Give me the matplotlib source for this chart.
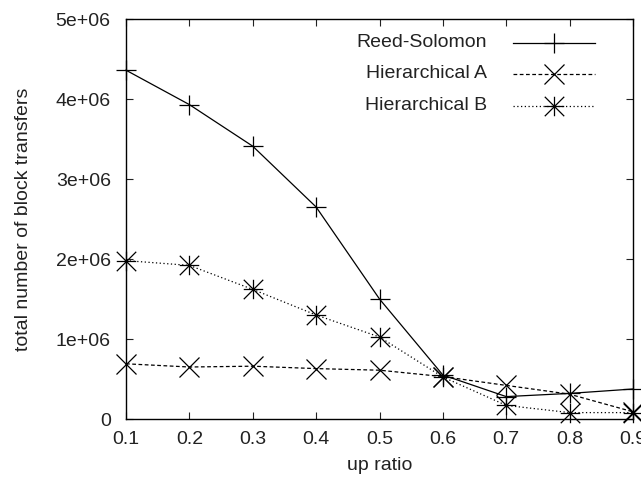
import matplotlib
matplotlib.use("Agg")
import matplotlib.pyplot as plt
from matplotlib.lines import Line2D
from matplotlib.path import Path

plt.rcParams['font.family'] = ['Liberation Sans', 'DejaVu Sans']

up_ratio = [0.1, 0.2, 0.3, 0.4, 0.5, 0.6, 0.7, 0.8, 0.9]
reed_solomon = [4.36e6, 3.93e6, 3.41e6, 2.65e6, 1.50e6, 0.55e6, 0.28e6, 0.32e6, 0.375e6]
hier_a = [0.69e6, 0.65e6, 0.66e6, 0.63e6, 0.61e6, 0.53e6, 0.42e6, 0.31e6, 0.09e6]
hier_b = [1.98e6, 1.92e6, 1.62e6, 1.30e6, 1.025e6, 0.525e6, 0.17e6, 0.08e6, 0.08e6]
series_names = ["Reed-Solomon", "Hierarchical A", "Hierarchical B"]
x_ticks = [0.1, 0.2, 0.3, 0.4, 0.5, 0.6, 0.7, 0.8, 0.9]
y_ticks = [0, 1e6, 2e6, 3e6, 4e6, 5e6]
y_tick_labels = ["0", "1e+06", "2e+06", "3e+06", "4e+06", "5e+06"]

FS = 14
fig = plt.figure(figsize=(6.41, 4.83), dpi=100)
ax = fig.add_axes([126/641, 1-419/483, (633-126)/641, 400/483])

# gnuplot-style asterisk: "+" overlaid with "x" reaching the corners
ast_verts = [(-1, 0), (1, 0), (0, -1), (0, 1), (-1, -1), (1, 1), (-1, 1), (1, -1)]
ast_codes = [Path.MOVETO, Path.LINETO] * 4
asterisk = Path(ast_verts, ast_codes)

styles = [
    dict(linestyle='-', marker='+', ms=15),
    dict(linestyle=(0, (3, 2)), marker='x', ms=14),
    dict(linestyle=(0, (1, 2)), marker=asterisk, ms=14),
]
data = [reed_solomon, hier_a, hier_b]
for ys, st in zip(data, styles):
    ax.plot(up_ratio, ys, color='black', lw=0.9, mew=0.9, clip_on=False, **st)

ax.set_xlim(0.1, 0.9)
ax.set_ylim(0, 5e6)
ax.set_xticks(x_ticks)
ax.set_xticklabels([f"{v:.1f}" for v in x_ticks])
ax.set_yticks(y_ticks)
ax.set_yticklabels(y_tick_labels)
ax.tick_params(direction='in', top=True, right=True, length=5, width=0.8,
               labelsize=FS, colors='#222222')
ax.tick_params(axis='x', pad=9)
ax.tick_params(axis='y', pad=11)
for s in ax.spines.values():
    s.set_linewidth(1.0)

ax.set_xlabel("up ratio", fontsize=FS, labelpad=6, color='#222222')
ax.set_ylabel("total number of block transfers", fontsize=FS, labelpad=17, color='#222222')

# legend drawn manually (text right-aligned, sample line to the right)
leg_y = [42.7, 74.0, 106.0]
for name, st, py in zip(series_names, styles, leg_y):
    yf = 1 - py/483
    fig.text(487/641, yf, name, ha='right', va='center', fontsize=FS, color='#222222')
    fig.add_artist(Line2D([513/641, 595/641], [yf, yf], color='black', lw=0.9,
                          linestyle=st['linestyle'], transform=fig.transFigure))
    fig.add_artist(Line2D([554/641], [yf], color='black', marker=st['marker'],
                          ms=st['ms'], mew=0.9, linestyle='none', transform=fig.transFigure))

fig.savefig("out.png", dpi=100)
